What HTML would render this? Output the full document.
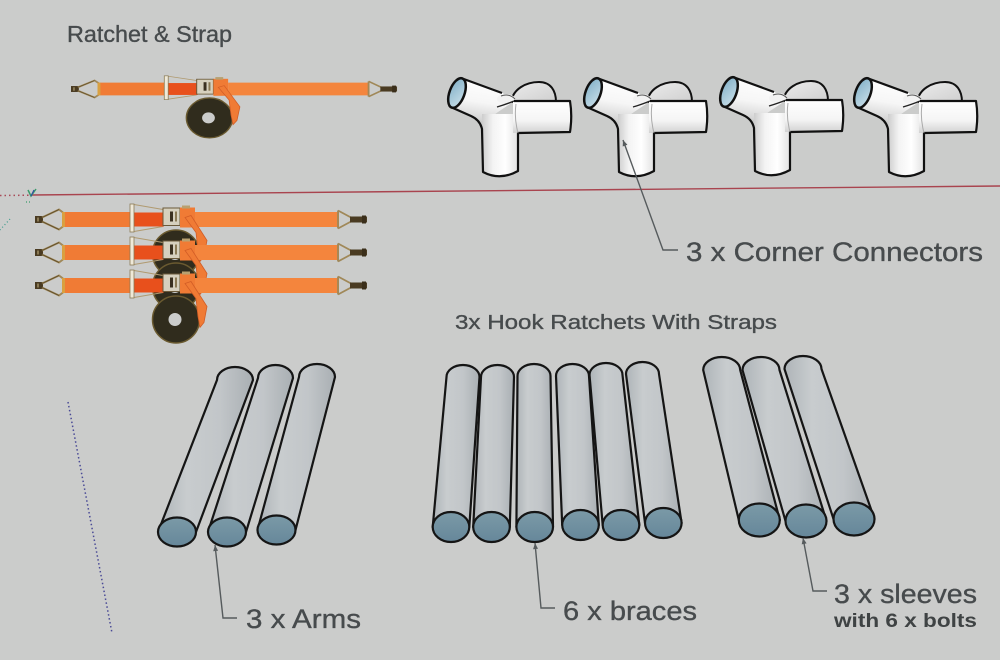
<!DOCTYPE html>
<html>
<head>
<meta charset="utf-8">
<style>
  html,body{margin:0;padding:0;background:#cbcccb;}
  svg{display:block;}
  text{font-family:"Liberation Sans","DejaVu Sans",sans-serif;fill:#474b4d;stroke:#474b4d;stroke-width:0.35;}
</style>
</head>
<body>
<svg width="1000" height="660" viewBox="0 0 1000 660" xmlns="http://www.w3.org/2000/svg">
  <defs>
    <linearGradient id="pipe" x1="0" y1="0" x2="1" y2="0">
      <stop offset="0" stop-color="#aeb4b8"/>
      <stop offset="0.3" stop-color="#c8ccce"/>
      <stop offset="0.65" stop-color="#c2c6c9"/>
      <stop offset="1" stop-color="#a9afb3"/>
    </linearGradient>
    <linearGradient id="endc" x1="0" y1="0" x2="0" y2="1">
      <stop offset="0" stop-color="#7b9aa7"/>
      <stop offset="1" stop-color="#66879a"/>
    </linearGradient>
    <linearGradient id="legG" x1="0" y1="0" x2="1" y2="0">
      <stop offset="0" stop-color="#cdcdcd"/>
      <stop offset="0.3" stop-color="#f3f3f3"/>
      <stop offset="0.65" stop-color="#ffffff"/>
      <stop offset="1" stop-color="#e2e2e2"/>
    </linearGradient>
    <linearGradient id="armG" x1="0" y1="0" x2="0" y2="1">
      <stop offset="0" stop-color="#ffffff"/>
      <stop offset="0.6" stop-color="#f5f5f5"/>
      <stop offset="1" stop-color="#d2d2d2"/>
    </linearGradient>
    <linearGradient id="tubeG" x1="0.6" y1="0" x2="0.4" y2="1">
      <stop offset="0" stop-color="#ffffff"/>
      <stop offset="0.55" stop-color="#f6f6f6"/>
      <stop offset="1" stop-color="#cfcfcf"/>
    </linearGradient>
    <linearGradient id="domeG" x1="0" y1="0" x2="1" y2="1">
      <stop offset="0" stop-color="#ececec"/>
      <stop offset="1" stop-color="#cfcfcf"/>
    </linearGradient>
    <linearGradient id="blueG" x1="0" y1="0" x2="1" y2="1">
      <stop offset="0" stop-color="#7faec6"/>
      <stop offset="1" stop-color="#cde2ec"/>
    </linearGradient>

    <g id="conn">
      <path d="M511,102 C513,89 526,82 539,82 C551,82 556,91 556,102 Z" fill="url(#domeG)" stroke="#111" stroke-width="2"/>
      <polygon points="461,78 503,93 510,104 498,112 484,122 453,108" fill="url(#tubeG)"/>
      <path d="M482,114 L518,114 L518,172 Q500,181 483,173 Z" fill="url(#legG)"/>
      <rect x="513" y="101" width="57" height="32" fill="url(#armG)"/>
      <ellipse cx="506" cy="99" rx="9" ry="5" fill="#f2f2f2"/>
      <path d="M461,78 L502,93 M514,101 L570,101 Q572.5,116 570,132 L518,133 L518,171 Q500,181 483,172 L482,129 Q480,120 471,116 L453,108" fill="none" stroke="#111" stroke-width="2.2" stroke-linejoin="round"/>
      <path d="M497,107 Q507,104 514,101" fill="none" stroke="#222" stroke-width="1.3"/>
      <path d="M501,96 Q509,93 515,99" fill="none" stroke="#555" stroke-width="1"/>
      <path d="M516,104 Q514,118 518,133" fill="none" stroke="#aaa" stroke-width="1"/>
      <ellipse cx="457" cy="93" rx="7.5" ry="15.5" transform="rotate(20 457 93)" fill="url(#blueG)" stroke="#111" stroke-width="2.5"/>
    </g>

    <g id="strap">
      <rect x="0" y="-3.5" width="8" height="7" fill="#4a3b22"/>
      <rect x="2" y="-2" width="2" height="4" fill="#8a7a55"/>
      <path d="M7,-2 L24,-10 L28,-7 M7,2 L24,10 L28,7" fill="none" stroke="#a08858" stroke-width="2"/>
      <path d="M7,-2 L24,-10 M7,2 L24,10" fill="none" stroke="#5a4a2a" stroke-width="0.7"/>
      <rect x="27" y="-7.5" width="69" height="15" fill="#f07b35"/>
      <rect x="27" y="-7.5" width="3" height="15" fill="#d9a040"/>
      <path d="M99,-15 L128,-10 M99,12 L128,7" fill="none" stroke="#b09a70" stroke-width="1"/>
      <rect x="99" y="-7" width="30" height="14" fill="#e8501c"/>
      <rect x="95" y="-15.5" width="4" height="28" fill="#efe9d8" stroke="#8a7a55" stroke-width="0.8"/>
      <rect x="128" y="-11.5" width="17" height="17.5" fill="#d6d0be" stroke="#6b5a3a" stroke-width="1"/>
      <rect x="135" y="-8" width="3" height="10" fill="#3a3020"/>
      <rect x="140" y="-8" width="2" height="10" fill="#8a7a55"/>
      <rect x="145" y="-12" width="15" height="20" fill="#f07b35"/>
      <rect x="147" y="-14" width="8" height="3" fill="#b8a070"/>
      <rect x="160" y="-7.5" width="144" height="15" fill="#f4853d"/>
      <path d="M303,-9 L316,-2 M303,9 L316,2 M303,-9 L303,9" fill="none" stroke="#a08858" stroke-width="1.8"/>
      <rect x="315" y="-3" width="17" height="6" fill="#4a3b22"/>
      <rect x="327" y="-4" width="4" height="8" fill="#3a2e1a"/>
      <circle cx="141" cy="34" r="23.5" fill="#302c1d" stroke="#6a5a30" stroke-width="1.5"/>
      <circle cx="140" cy="34" r="6.5" fill="#cbcccb"/>
      <polygon points="150,-2 156,-4 172,21 169,37 165,42 163,31 161,13" fill="#f07b35" stroke="#d25d26" stroke-width="0.8"/>
    </g>
  </defs>

  <line x1="0" y1="195.5" x2="30" y2="195.2" stroke="#a84a58" stroke-width="1.5" stroke-dasharray="1.5 3"/>
  <line x1="32" y1="195" x2="1000" y2="186" stroke="#a9444f" stroke-width="1.4"/>
  <path d="M28,190 L31,196 L36,189" fill="none" stroke="#3a9a6a" stroke-width="1.5"/>
  <path d="M31,196 L34,190" fill="none" stroke="#3050a0" stroke-width="1.2"/>
  <line x1="26" y1="202" x2="31" y2="202" stroke="#3a9a6a" stroke-width="1.2" stroke-dasharray="1 2"/>
  <line x1="10" y1="219" x2="0" y2="230" stroke="#3a9a8a" stroke-width="1.2" stroke-dasharray="1 2.5"/>
  <line x1="68" y1="402" x2="112" y2="633" stroke="#4a4a96" stroke-width="1.5" stroke-dasharray="1.5 2.5"/>

  <text x="67" y="42" font-size="23" textLength="165" lengthAdjust="spacingAndGlyphs">Ratchet &amp; Strap</text>
  <text x="455" y="329" font-size="20" textLength="322" lengthAdjust="spacingAndGlyphs">3x Hook Ratchets With  Straps</text>

  <use href="#strap" transform="translate(71,89) scale(0.982,0.85)"/>

  <use href="#strap" transform="translate(35,219.5)"/>
  <use href="#strap" transform="translate(35,252.5)"/>
  <use href="#strap" transform="translate(35,285.5)"/>

  <use href="#conn"/>
  <use href="#conn" transform="translate(136,0)"/>
  <use href="#conn" transform="translate(272,-1)"/>
  <use href="#conn" transform="translate(406,0)"/>

  <g stroke="#151515" stroke-width="2.2" stroke-linejoin="round">
    <path d="M158,532 L217,380 A18,13 0 0 1 253,380 L196,532 Z" fill="url(#pipe)"/>
    <ellipse cx="177" cy="532" rx="19" ry="14.5" fill="url(#endc)"/>
    <path d="M208,532 L258,378 A17.5,13 0 0 1 293,378 L246,532 Z" fill="url(#pipe)"/>
    <ellipse cx="227" cy="532" rx="19" ry="14.5" fill="url(#endc)"/>
    <path d="M257.5,530 L299,377 A18,13 0 0 1 335,377 L295.5,530 Z" fill="url(#pipe)"/>
    <ellipse cx="276.5" cy="530" rx="19" ry="14.5" fill="url(#endc)"/>
  </g>

  <g stroke="#151515" stroke-width="2.2" stroke-linejoin="round">
    <path d="M432.7,527 L446.5,377 A16.5,12 0 0 1 479.5,377 L469.3,527 Z" fill="url(#pipe)"/>
    <ellipse cx="451" cy="527" rx="18.3" ry="15" fill="url(#endc)"/>
    <path d="M473.2,527 L481,377 A16.5,12 0 0 1 514,377 L509.8,527 Z" fill="url(#pipe)"/>
    <ellipse cx="491.5" cy="527" rx="18.3" ry="15" fill="url(#endc)"/>
    <path d="M516.4,527 L517.5,376 A16.5,12 0 0 1 550.5,376 L553,527 Z" fill="url(#pipe)"/>
    <ellipse cx="534.7" cy="527" rx="18.3" ry="15" fill="url(#endc)"/>
    <path d="M562.2,525 L556,376 A16.5,12 0 0 1 589,376 L598.8,525 Z" fill="url(#pipe)"/>
    <ellipse cx="580.5" cy="525" rx="18.3" ry="15" fill="url(#endc)"/>
    <path d="M602.7,525 L589.5,375 A16.5,12 0 0 1 622.5,375 L639.3,525 Z" fill="url(#pipe)"/>
    <ellipse cx="621" cy="525" rx="18.3" ry="15" fill="url(#endc)"/>
    <path d="M645,523 L626,374 A16.5,12 0 0 1 659,374 L681.6,523 Z" fill="url(#pipe)"/>
    <ellipse cx="663.3" cy="523" rx="18.3" ry="15" fill="url(#endc)"/>
  </g>

  <g stroke="#151515" stroke-width="2.2" stroke-linejoin="round">
    <path d="M738.8,520 L703.2,370 A18.5,13 0 0 1 740.2,370 L779.8,520 Z" fill="url(#pipe)"/>
    <ellipse cx="759.3" cy="520" rx="20.5" ry="16.5" fill="url(#endc)"/>
    <path d="M785.5,521 L742.5,370 A18.5,13 0 0 1 779.5,370 L826.5,521 Z" fill="url(#pipe)"/>
    <ellipse cx="806" cy="521" rx="20.5" ry="16.5" fill="url(#endc)"/>
    <path d="M833.5,519 L784.5,369 A18.5,13 0 0 1 821.5,369 L874.5,519 Z" fill="url(#pipe)"/>
    <ellipse cx="854" cy="519" rx="20.5" ry="16.5" fill="url(#endc)"/>
  </g>

  <g fill="none" stroke="#565b5d" stroke-width="1.4">
    <polyline points="623,140 663,250 678,250"/>
    <polyline points="215,545 223,618 237,618"/>
    <polyline points="535,543 541,608 555,608"/>
    <polyline points="803,538 813,591 827,591"/>
  </g>
  <g fill="#565b5d">
    <polygon points="623,140 627.4,144.8 622.7,146.5"/>
    <polygon points="215,545 218.1,550.7 213.2,551.2"/>
    <polygon points="535,543 538,548.7 533.1,549.2"/>
    <polygon points="803,538 806.6,543.4 801.7,544.4"/>
  </g>

  <text x="686" y="261" font-size="27" textLength="297" lengthAdjust="spacingAndGlyphs">3 x Corner Connectors</text>
  <text x="246" y="628" font-size="27" textLength="115" lengthAdjust="spacingAndGlyphs">3 x Arms</text>
  <text x="563" y="620" font-size="27" textLength="134" lengthAdjust="spacingAndGlyphs">6 x braces</text>
  <text x="834" y="603" font-size="27" textLength="143" lengthAdjust="spacingAndGlyphs">3 x sleeves</text>
  <text x="834" y="627" font-size="19" font-weight="bold" style="fill:#3f4344;stroke:none" textLength="143" lengthAdjust="spacingAndGlyphs">with 6 x bolts</text>
</svg>
</body>
</html>
